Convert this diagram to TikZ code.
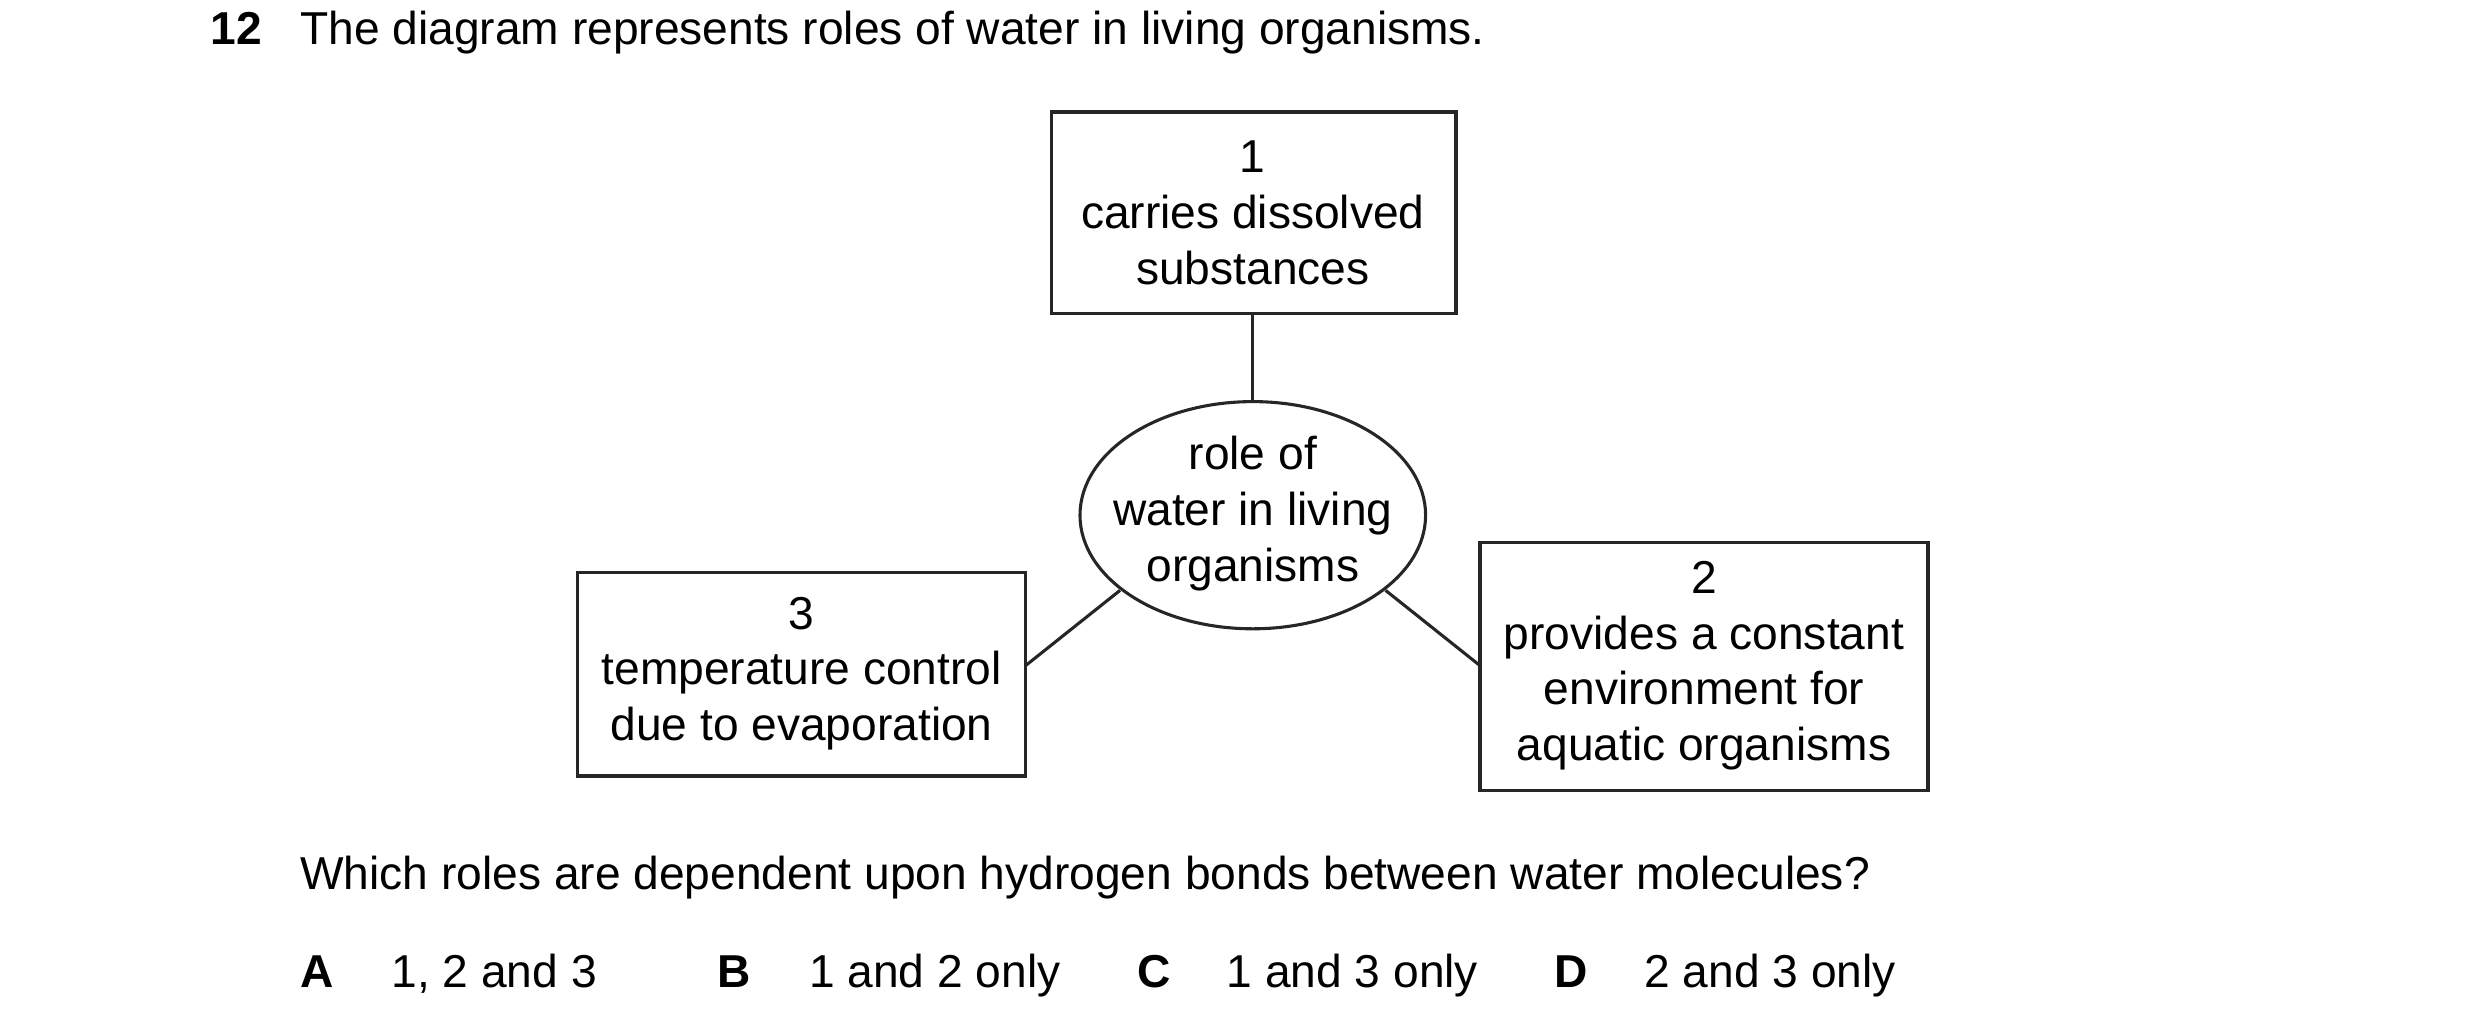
\documentclass[tikz,border=0pt]{standalone}
\usepackage{fontspec}
\setmainfont{Liberation Sans}
\usetikzlibrary{shapes.geometric}
\begin{document}
\begin{tikzpicture}[x=0.01cm,y=-0.01cm,
  txt/.style={font=\fontsize{8.2}{9.9}\selectfont, anchor=base west, inner sep=0},
  boxtxt/.style={font=\fontsize{8.2}{9.9}\selectfont, align=center, inner sep=0},
  line/.style={draw=black!85, line width=0.55pt}]
\useasboundingbox (0,0) rectangle (1550,642);
\node[txt,font=\fontsize{8.2}{9.9}\selectfont\bfseries] (n12) at (131,28) {12};
\node[txt] (title) at (187,28) {The diagram represents roles of water in living organisms.};
\draw[line] (657,70) rectangle (910,196);
\coordinate (b1b) at (783,196);
\node[boxtxt] (b1) at (783,133) {1\\carries dissolved\\substances};
\draw[line] (783,322) ellipse [x radius=108, y radius=71];
\node[boxtxt] (e) at (783,321) {role of\\water in living\\organisms};
\coordinate (et) at (783,251);
\coordinate (el) at (700,369);
\coordinate (er) at (866,369);
\draw[line] (361,358) rectangle (641,485);
\node[boxtxt] (b3) at (501,421) {3\\temperature control\\due to evaporation};
\coordinate (b3r) at (641,416);
\draw[line] (925,339) rectangle (1205,494);
\node[boxtxt] (b2) at (1065,416) {2\\provides a constant\\environment for\\aquatic organisms};
\coordinate (b2l) at (925,416);
\draw[line] (b1b) -- (et);
\draw[line] (el) -- (b3r);
\draw[line] (er) -- (b2l);
\node[txt] (q) at (187,556) {Which roles are dependent upon hydrogen bonds between water molecules?};
\node[txt,font=\fontsize{8.2}{9.9}\selectfont\bfseries] (A) at (187,617) {A};
\node[txt] (Ao) at (244,617) {1, 2 and 3};
\node[txt,font=\fontsize{8.2}{9.9}\selectfont\bfseries] (B) at (448,617) {B};
\node[txt] (Bo) at (505,617) {1 and 2 only};
\node[txt,font=\fontsize{8.2}{9.9}\selectfont\bfseries] (C) at (710,617) {C};
\node[txt] (Co) at (766,617) {1 and 3 only};
\node[txt,font=\fontsize{8.2}{9.9}\selectfont\bfseries] (D) at (971,617) {D};
\node[txt] (Do) at (1027,617) {2 and 3 only};
\end{tikzpicture}
\end{document}
